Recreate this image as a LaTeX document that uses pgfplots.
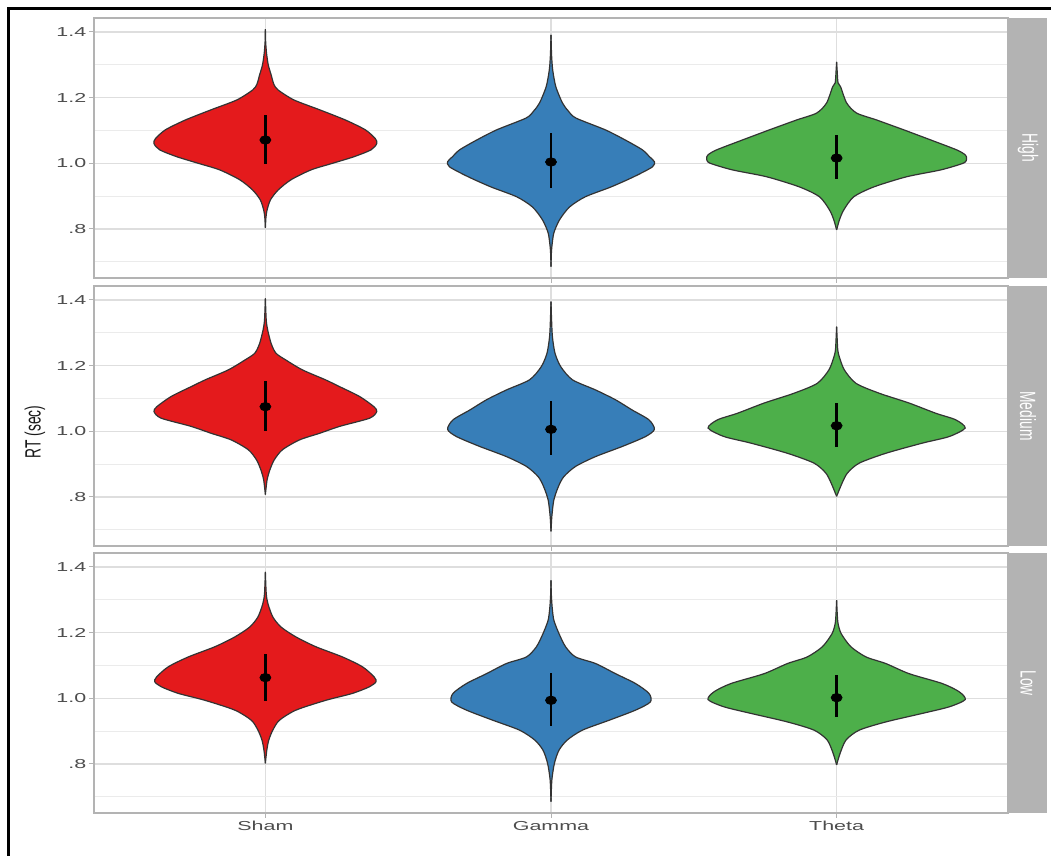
\documentclass[border=0pt]{standalone}
\usepackage{fontspec}
\setmainfont{Liberation Sans}
\newfontfamily\tickfont[FakeStretch=1.65]{Liberation Sans}
\usepackage{graphicx}
\usepackage{pgfplots}
\pgfplotsset{compat=1.18}
\usepackage{pgfplotstable}
\usepgfplotslibrary{fillbetween}

\definecolor{cSham}{HTML}{E41A1C}
\definecolor{cGamma}{HTML}{377EB8}
\definecolor{cTheta}{HTML}{4DAF4A}
\definecolor{gridA}{HTML}{DEDEDE}
\definecolor{gridB}{HTML}{EBEBEB}
\definecolor{stripc}{HTML}{B3B3B3}
\definecolor{tickc}{HTML}{4D4D4D}
\definecolor{outl}{HTML}{333333}

% ---------- violin profiles: y, half-width ----------
\pgfplotstableread{
y w
0.803 0
0.835 0.002
0.858 0.006
0.889 0.018
0.919 0.045
0.950 0.090
0.980 0.160
1.000 0.235
1.020 0.310
1.041 0.370
1.060 0.390
1.075 0.385
1.102 0.350
1.132 0.280
1.163 0.190
1.193 0.100
1.223 0.045
1.240 0.030
1.270 0.020
1.300 0.010
1.336 0.004
1.370 0.001
1.409 0
}\shamH
\pgfplotstableread{
y w
0.685 0
0.720 0.001
0.746 0.003
0.788 0.010
0.828 0.030
0.867 0.065
0.898 0.120
0.928 0.210
0.959 0.290
0.989 0.355
1.005 0.362
1.020 0.345
1.041 0.320
1.071 0.260
1.102 0.190
1.138 0.087
1.160 0.060
1.184 0.040
1.233 0.017
1.284 0.006
1.330 0.002
1.391 0
}\gammaH
\pgfplotstableread{
y w
0.797 0
0.828 0.010
0.858 0.025
0.898 0.060
0.928 0.130
0.959 0.245
0.980 0.365
1.001 0.445
1.015 0.455
1.026 0.450
1.041 0.420
1.071 0.330
1.102 0.235
1.132 0.140
1.153 0.070
1.184 0.035
1.233 0.014
1.245 0.005
1.280 0.002
1.309 0
}\thetaH
\pgfplotstableread{
y w
0.807 0
0.852 0.006
0.883 0.016
0.913 0.031
0.944 0.060
0.974 0.120
0.994 0.190
1.015 0.260
1.040 0.365
1.060 0.390
1.075 0.380
1.106 0.330
1.136 0.260
1.157 0.210
1.187 0.130
1.217 0.072
1.238 0.037
1.268 0.020
1.309 0.008
1.339 0.003
1.405 0
}\shamM
\pgfplotstableread{
y w
0.695 0
0.741 0.003
0.791 0.010
0.832 0.026
0.862 0.045
0.893 0.086
0.923 0.156
0.954 0.250
0.984 0.331
1.006 0.362
1.035 0.343
1.065 0.284
1.096 0.226
1.126 0.156
1.157 0.075
1.197 0.034
1.238 0.014
1.288 0.005
1.340 0.002
1.395 0
}\gammaM
\pgfplotstableread{
y w
0.802 0
0.842 0.019
0.873 0.038
0.903 0.079
0.933 0.172
0.964 0.300
0.984 0.394
1.010 0.450
1.035 0.417
1.055 0.347
1.086 0.254
1.116 0.149
1.146 0.068
1.187 0.027
1.228 0.009
1.248 0.004
1.280 0.002
1.319 0
}\thetaM
\pgfplotstableread{
y w
0.802 0
0.842 0.005
0.873 0.012
0.903 0.026
0.933 0.049
0.964 0.107
0.994 0.212
1.015 0.305
1.035 0.364
1.050 0.387
1.065 0.381
1.096 0.340
1.126 0.270
1.157 0.177
1.187 0.107
1.217 0.055
1.248 0.026
1.288 0.009
1.319 0.003
1.385 0
}\shamL
\pgfplotstableread{
y w
0.685 0
0.751 0.003
0.802 0.012
0.842 0.028
0.873 0.057
0.903 0.110
0.933 0.203
0.964 0.296
0.989 0.348
1.015 0.343
1.045 0.296
1.075 0.226
1.106 0.156
1.126 0.086
1.157 0.051
1.197 0.028
1.238 0.010
1.278 0.004
1.320 0.001
1.359 0
}\gammaL
\pgfplotstableread{
y w
0.797 0
0.832 0.012
0.873 0.033
0.903 0.079
0.928 0.172
0.954 0.300
0.974 0.394
0.996 0.450
1.020 0.429
1.045 0.370
1.075 0.254
1.106 0.172
1.126 0.103
1.157 0.050
1.197 0.016
1.228 0.005
1.260 0.002
1.299 0
}\thetaL

\newcommand{\violin}[4]{%
  \addplot[draw=outl, line width=0.6pt, smooth, tension=0.45, name path=R#4] table[x expr={#1+\thisrow{w}}, y=y]{#2};
  \addplot[draw=outl, line width=0.6pt, smooth, tension=0.45, name path=L#4] table[x expr={#1-\thisrow{w}}, y=y]{#2};
  \addplot[fill=#3, draw=none] fill between[of=R#4 and L#4];
}
\newcommand{\means}[1]{%
  \addplot[black, only marks, mark=*, mark size=2.1pt, mark options={xscale=1.3},
    error bars/.cd, y dir=both, y explicit, error mark=none,
    error bar style={line width=1.3pt, black}] coordinates {#1};
}

\pgfplotsset{
  panel/.style={
    at={#1}, anchor=north west,
    width=457pt, height=130pt, scale only axis,
    xmin=0.4, xmax=3.6, ymin=0.6507, ymax=1.4426,
    xtick={1,2,3}, xticklabels={},
    ytick={0.8,1.0,1.2,1.4}, yticklabels={.8,1.0,1.2,1.4},
    minor ytick={0.7,0.9,1.1,1.3},
    grid=both,
    major grid style={gridA, line width=0.55pt},
    minor grid style={gridB, line width=0.45pt},
    axis line style={stripc, line width=0.6pt},
    tick align=outside, major tick length=2.5pt, minor tick length=0pt,
    tick style={stripc, line width=0.5pt},
    xtick pos=left, ytick pos=left,
    tick label style={font=\tickfont\fontsize{6.5}{7}\selectfont, text=tickc},
    yticklabel style={inner sep=1.2pt},
    xticklabel style={inner sep=1.5pt},
    set layers, clip=true,
  },
}

\begin{document}
\begin{tikzpicture}

% ---- High ----
\begin{axis}[panel={(47pt,-9pt)}]
  \violin{1}{\shamH}{cSham}{ha}
  \violin{2}{\gammaH}{cGamma}{hb}
  \violin{3}{\thetaH}{cTheta}{hc}
  \means{(1,1.071) += (0,0.076) -= (0,0.073)
         (2,1.004) += (0,0.089) -= (0,0.079)
         (3,1.016) += (0,0.070) -= (0,0.064)}
\end{axis}

% ---- Medium ----
\begin{axis}[panel={(47pt,-143pt)}]
  \violin{1}{\shamM}{cSham}{ma}
  \violin{2}{\gammaM}{cGamma}{mb}
  \violin{3}{\thetaM}{cTheta}{mc}
  \means{(1,1.075) += (0,0.079) -= (0,0.074)
         (2,1.006) += (0,0.087) -= (0,0.078)
         (3,1.017) += (0,0.069) -= (0,0.065)}
\end{axis}

% ---- Low ----
\begin{axis}[panel={(47pt,-276.5pt)}, xticklabels={Sham,Gamma,Theta}]
  \violin{1}{\shamL}{cSham}{la}
  \violin{2}{\gammaL}{cGamma}{lb}
  \violin{3}{\thetaL}{cTheta}{lc}
  \means{(1,1.063) += (0,0.073) -= (0,0.071)
         (2,0.994) += (0,0.084) -= (0,0.079)
         (3,1.002) += (0,0.068) -= (0,0.060)}
\end{axis}

% ---- facet strips ----
\fill[stripc] (504.5pt,-9pt) rectangle (523.5pt,-139pt);
\fill[stripc] (504.5pt,-143pt) rectangle (523.5pt,-273pt);
\fill[stripc] (504.5pt,-276.5pt) rectangle (523.5pt,-406.5pt);
\node[rotate=-90, text=white, inner sep=0pt] at (514pt,-74pt)
  {\scalebox{1}[1.6]{\fontsize{6.9}{8}\selectfont High}};
\node[rotate=-90, text=white, inner sep=0pt] at (514pt,-208pt)
  {\scalebox{1}[1.6]{\fontsize{6.9}{8}\selectfont Medium}};
\node[rotate=-90, text=white, inner sep=0pt] at (514pt,-341.5pt)
  {\scalebox{1}[1.6]{\fontsize{6.9}{8}\selectfont Low}};

% ---- y label ----
\node[rotate=90, text=black!90, inner sep=0pt] at (17.5pt,-216pt)
  {\scalebox{1}[1.6]{\fontsize{6.9}{8}\selectfont RT (sec)}};

% ---- outer frame (clipped by page) ----
\draw[line width=1.3pt, black] (4.3pt,-440pt) -- (4.3pt,-4.3pt) -- (540pt,-4.3pt);

\pgfresetboundingbox
\useasboundingbox (0,0) rectangle (525.5pt,-428pt);
\end{tikzpicture}
\end{document}
